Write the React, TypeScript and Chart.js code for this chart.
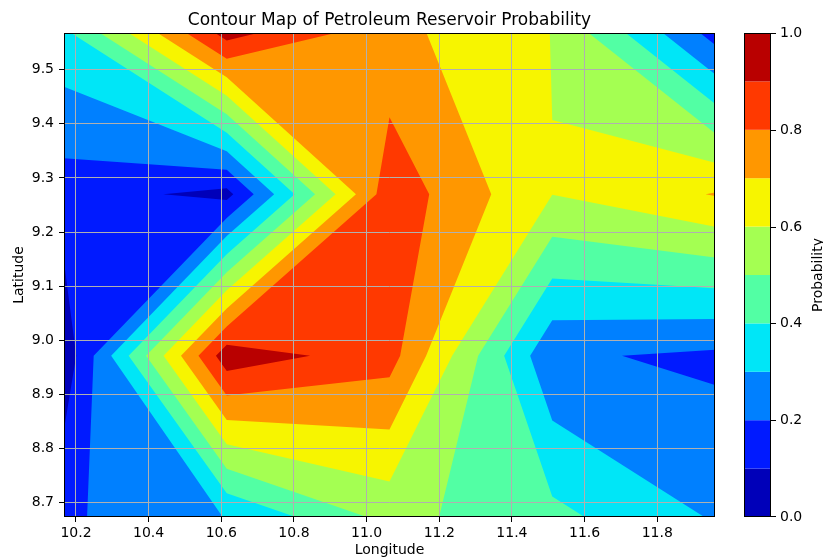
import React, { useEffect, useRef } from 'react';
import { Chart, registerables } from 'chart.js';

Chart.register(...registerables);

// Grid of the field (longitude columns, latitude rows)
const LONGITUDES = [10.167, 10.615, 11.063, 11.511, 11.959];
const LATITUDES = [8.673, 8.971, 9.27, 9.568];
// Probability values, one list per latitude row (south -> north), one value per longitude
const PROB_LAT_1 = [0.183, 0.303, 0.532, 0.427, 0.291];
const PROB_LAT_2 = [0.03, 0.962, 0.841, 0.215, 0.18];
const PROB_LAT_3 = [0.15, 0.068, 0.864, 0.6017, 0.706];
const PROB_LAT_4 = [0.375, 0.94, 0.73, 0.598, 0.16];
const PROBABILITY = [PROB_LAT_1, PROB_LAT_2, PROB_LAT_3, PROB_LAT_4];

const LEVELS = [0, 0.1, 0.2, 0.3, 0.4, 0.5, 0.6, 0.7, 0.8, 0.9, 1.0];
const BAND_COLORS = [
  'rgb(0,0,185)', 'rgb(0,26,255)', 'rgb(0,128,255)', 'rgb(0,230,247)', 'rgb(82,255,164)',
  'rgb(164,255,82)', 'rgb(247,245,0)', 'rgb(255,151,0)', 'rgb(255,57,0)', 'rgb(185,0,0)',
];
const X_TICKS = [10.2, 10.4, 10.6, 10.8, 11.0, 11.2, 11.4, 11.6, 11.8];
const Y_TICKS = [8.7, 8.8, 8.9, 9.0, 9.1, 9.2, 9.3, 9.4, 9.5];
const CB_TICKS = [0, 0.2, 0.4, 0.6, 0.8, 1.0];

const TITLE = 'Contour Map of Petroleum Reservoir Probability';
const X_LABEL = 'Longitude';
const Y_LABEL = 'Latitude';
const CB_LABEL = 'Probability';
const FONT = '"DejaVu Sans", sans-serif';

type Pt = [number, number];

// Region of a grid cell where value >= t (marching squares, straight segments,
// saddles resolved with the cell-centre mean, like matplotlib's contourf)
function regionAbove(xs: number[], ys: number[], vs: number[], t: number): Pt[][] {
  const high = vs.map((v) => v >= t);
  const n = high.filter(Boolean).length;
  if (n === 0) return [];
  const cross = (i: number, j: number): Pt => {
    const f = (t - vs[i]) / (vs[j] - vs[i]);
    return [xs[i] + f * (xs[j] - xs[i]), ys[i] + f * (ys[j] - ys[i])];
  };
  const saddle = n === 2 && high[0] === high[2] && high[1] === high[3];
  const centre = (vs[0] + vs[1] + vs[2] + vs[3]) / 4;
  if (saddle && centre < t) {
    const polys: Pt[][] = [];
    for (let i = 0; i < 4; i++) {
      if (!high[i]) continue;
      const p = (i + 3) % 4;
      const q = (i + 1) % 4;
      polys.push([cross(p, i), [xs[i], ys[i]], cross(i, q)]);
    }
    return polys;
  }
  const ring: Pt[] = [];
  for (let i = 0; i < 4; i++) {
    const j = (i + 1) % 4;
    if (high[i]) ring.push([xs[i], ys[i]]);
    if (high[i] !== high[j]) ring.push(cross(i, j));
  }
  return [ring];
}

const contourPlugin = {
  id: 'contourFill',
  beforeDraw(chart: any) {
    const { ctx, scales } = chart;
    const sx = scales.x;
    const sy = scales.y;
    ctx.save();
    for (let k = 0; k < BAND_COLORS.length; k++) {
      const t = LEVELS[k];
      ctx.beginPath();
      for (let r = 0; r < LATITUDES.length - 1; r++) {
        for (let c = 0; c < LONGITUDES.length - 1; c++) {
          const cx = [LONGITUDES[c], LONGITUDES[c + 1], LONGITUDES[c + 1], LONGITUDES[c]];
          const cy = [LATITUDES[r], LATITUDES[r], LATITUDES[r + 1], LATITUDES[r + 1]];
          const cv = [PROBABILITY[r][c], PROBABILITY[r][c + 1], PROBABILITY[r + 1][c + 1], PROBABILITY[r + 1][c]];
          for (const poly of regionAbove(cx, cy, cv, t)) {
            poly.forEach(([lon, lat], i) => {
              const px = sx.getPixelForValue(lon);
              const py = sy.getPixelForValue(lat);
              if (i === 0) ctx.moveTo(px, py);
              else ctx.lineTo(px, py);
            });
            ctx.closePath();
          }
        }
      }
      ctx.fillStyle = BAND_COLORS[k];
      ctx.fill();
    }
    ctx.restore();
  },
};

const decorPlugin = {
  id: 'decor',
  afterDraw(chart: any) {
    const { ctx, chartArea: a, scales } = chart;
    const cb = scales.cb;
    ctx.save();
    ctx.strokeStyle = '#000';
    ctx.lineWidth = 1;
    ctx.strokeRect(a.left + 0.5, a.top + 0.5, a.right - a.left - 1, a.bottom - a.top - 1);

    // colour bar
    const L = 744;
    const R = 771;
    for (let k = 0; k < BAND_COLORS.length; k++) {
      const yTop = cb.getPixelForValue(LEVELS[k + 1]);
      const yBot = cb.getPixelForValue(LEVELS[k]);
      ctx.fillStyle = BAND_COLORS[k];
      ctx.fillRect(L, yTop, R - L, yBot - yTop);
    }
    ctx.strokeRect(L + 0.5, a.top + 0.5, R - L - 1, a.bottom - a.top - 1);
    ctx.fillStyle = '#000';
    ctx.font = `14px ${FONT}`;
    ctx.textAlign = 'left';
    ctx.textBaseline = 'middle';
    CB_TICKS.forEach((v) => {
      const y = Math.round(cb.getPixelForValue(v));
      const yy = Math.min(Math.max(y, a.top), a.bottom - 1) + 0.5;
      ctx.beginPath();
      ctx.moveTo(R, yy);
      ctx.lineTo(R + 5, yy);
      ctx.stroke();
      ctx.fillText(v.toFixed(1), R + 9, y);
    });

    // title and axis labels
    ctx.textBaseline = 'alphabetic';
    ctx.textAlign = 'center';
    ctx.font = `17px ${FONT}`;
    ctx.fillText(TITLE, (a.left + a.right) / 2, 25);
    ctx.font = `14px ${FONT}`;
    ctx.fillText(X_LABEL, (a.left + a.right) / 2, 554);

    ctx.save();
    ctx.translate(23, (a.top + a.bottom) / 2);
    ctx.rotate(-Math.PI / 2);
    ctx.fillText(Y_LABEL, 0, 0);
    ctx.restore();

    ctx.save();
    ctx.translate(822, (a.top + a.bottom) / 2);
    ctx.rotate(-Math.PI / 2);
    ctx.fillText(CB_LABEL, 0, 0);
    ctx.restore();

    ctx.restore();
  },
};

export default function App() {
  const ref = useRef<HTMLCanvasElement>(null);
  useEffect(() => {
    const canvas = ref.current;
    if (!canvas) return;
    const gridCommon = {
      color: '#b0b0b0',
      lineWidth: 1,
      tickColor: '#000',
      tickLength: 5,
      drawTicks: true,
    };
    const chart = new Chart(canvas, {
      type: 'scatter',
      data: { datasets: [] },
      options: {
        animation: false,
        responsive: false,
        maintainAspectRatio: false,
        devicePixelRatio: 1,
        events: [],
        layout: { padding: { left: 0, top: 33, right: 108, bottom: 0 } },
        font: { family: FONT, size: 14 },
        plugins: {
          legend: { display: false },
          title: { display: false },
          tooltip: { enabled: false },
        },
        scales: {
          x: {
            type: 'linear',
            position: 'bottom',
            min: LONGITUDES[0],
            max: LONGITUDES[LONGITUDES.length - 1],
            grid: gridCommon,
            border: { display: false },
            ticks: {
              color: '#000',
              font: { family: FONT, size: 14 },
              padding: 3,
              autoSkip: false,
              maxRotation: 0,
              callback: (v: any) => Number(v).toFixed(1),
            },
            afterBuildTicks: (s: any) => {
              s.ticks = X_TICKS.map((value) => ({ value }));
            },
            afterFit: (s: any) => {
              s.height = 40;
            },
          },
          y: {
            type: 'linear',
            position: 'left',
            min: LATITUDES[0],
            max: LATITUDES[LATITUDES.length - 1],
            grid: gridCommon,
            border: { display: false },
            ticks: {
              color: '#000',
              font: { family: FONT, size: 14 },
              padding: 5,
              autoSkip: false,
              callback: (v: any) => Number(v).toFixed(1),
            },
            afterBuildTicks: (s: any) => {
              s.ticks = Y_TICKS.map((value) => ({ value }));
            },
            afterFit: (s: any) => {
              s.width = 64;
            },
          },
          cb: {
            type: 'linear',
            position: 'right',
            display: false,
            min: LEVELS[0],
            max: LEVELS[LEVELS.length - 1],
          },
        },
      } as any,
      plugins: [contourPlugin, decorPlugin],
    });
    return () => chart.destroy();
  }, []);
  return (
    <div style={{ position: 'absolute', left: 0, top: 0, width: 823, height: 557, background: '#fff' }}>
      <canvas ref={ref} width={823} height={557} style={{ width: 823, height: 557, display: 'block' }} />
    </div>
  );
}
